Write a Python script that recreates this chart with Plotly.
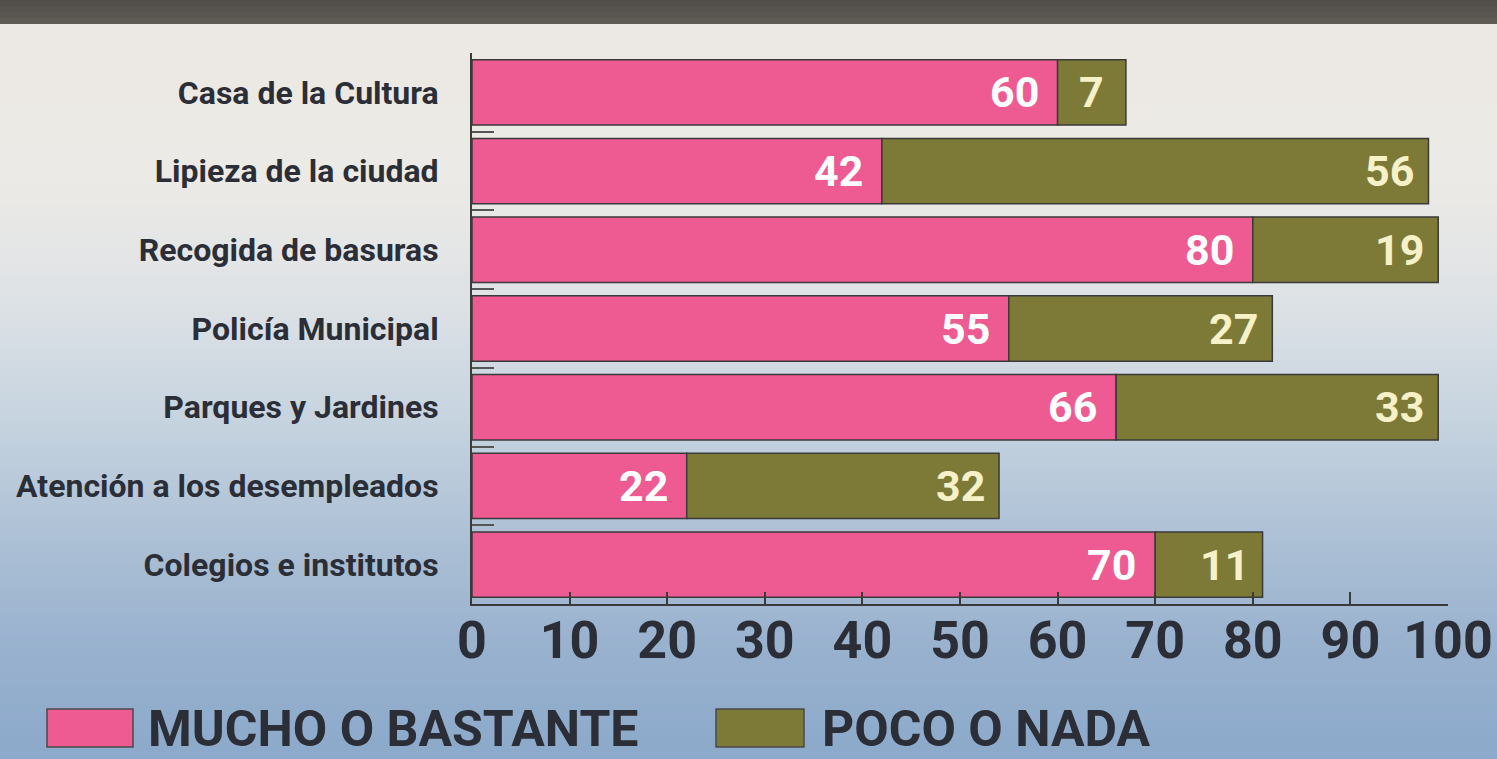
import plotly.graph_objects as go

categories = ["Casa de la Cultura", "Lipieza de la ciudad", "Recogida de basuras",
              "Policía Municipal", "Parques y Jardines", "Atención a los desempleados",
              "Colegios e institutos"]
mucho = [60, 42, 80, 55, 66, 22, 70]
poco = [7, 56, 19, 27, 33, 32, 11]
x_ticks = [0, 10, 20, 30, 40, 50, 60, 70, 80, 90, 100]
series_names = ["MUCHO O BASTANTE", "POCO O NADA"]

PINK = "#ee5a92"
OLIVE = "#7d7a38"
DARK = "#2b2e36"
FONT = "Roboto, Liberation Sans, Arial, sans-serif"

W, H = 1497, 759
L, R, T, B = 472, 49, 53, 155
PH = H - T - B


def py2paper(py):
    return (H - B - py) / PH


def px2paper(px):
    return (px - L) / (W - L - R)


fig = go.Figure()
fig.add_trace(go.Bar(y=categories, x=mucho, orientation="h", name=series_names[0],
                     marker=dict(color=PINK, line=dict(color="#3a3a3a", width=1.5)),
                     showlegend=False, hoverinfo="x+y"))
fig.add_trace(go.Bar(y=categories, x=poco, base=mucho, orientation="h", name=series_names[1],
                     marker=dict(color=OLIVE, line=dict(color="#3a3a3a", width=1.5)),
                     showlegend=False, hoverinfo="x+y"))

# value labels
for c, m, p in zip(categories, mucho, poco):
    fig.add_annotation(x=m, y=c, xref="x", yref="y", text=str(m), showarrow=False,
                       xanchor="right", xshift=-17,
                       font=dict(family=FONT, size=43, color="#ffffff", weight="bold"))
    if p < 10:
        fig.add_annotation(x=m + p / 2, y=c, xref="x", yref="y", text=str(p), showarrow=False,
                           xanchor="center",
                           font=dict(family=FONT, size=43, color="#f6f1c8", weight="bold"))
    else:
        fig.add_annotation(x=m + p, y=c, xref="x", yref="y", text=str(p), showarrow=False,
                           xanchor="right", xshift=-12,
                           font=dict(family=FONT, size=43, color="#f6f1c8", weight="bold"))

# background gradient (decorative)
stops = [(0, (80, 77, 72)), (22, (95, 92, 86)), (26, (236, 233, 228)), (180, (236, 234, 230)),
         (300, (222, 226, 230)), (420, (198, 211, 223)), (540, (172, 192, 213)),
         (650, (152, 177, 206)), (759, (140, 169, 203))]


def col_at(py):
    for (y0, c0), (y1, c1) in zip(stops[:-1], stops[1:]):
        if y0 <= py <= y1:
            t = (py - y0) / (y1 - y0) if y1 > y0 else 0
            return "rgb(%d,%d,%d)" % tuple(round(a + (b - a) * t) for a, b in zip(c0, c1))
    return "rgb(%d,%d,%d)" % stops[-1][1]


shapes = []
step = 6
py = 0
while py < H:
    shapes.append(dict(type="rect", xref="paper", yref="paper", layer="below",
                       x0=px2paper(-20), x1=px2paper(W + 20), y0=py2paper(py + step + 0.5), y1=py2paper(py),
                       fillcolor=col_at(py + step / 2), line=dict(width=0)))
    py += step

# custom legend
legend_items = [(47, 133, 146, PINK, series_names[0]), (716, 804, 820, OLIVE, series_names[1])]
for x0, x1, tx, col, name in legend_items:
    shapes.append(dict(type="rect", xref="paper", yref="paper",
                       x0=px2paper(x0), x1=px2paper(x1), y0=py2paper(747), y1=py2paper(709),
                       fillcolor=col, line=dict(color="#4a4a4a", width=1.5)))
    fig.add_annotation(x=px2paper(tx), y=py2paper(729), xref="paper", yref="paper",
                       text=name, showarrow=False, xanchor="left", yanchor="middle",
                       font=dict(family=FONT, size=50, color=DARK, weight="bold"))

fig.update_layout(
    width=W, height=H,
    margin=dict(l=L, r=R, t=T, b=B, autoexpand=False),
    barmode="overlay",
    bargap=0.17,
    paper_bgcolor="#c8d2dc",
    plot_bgcolor="rgba(0,0,0,0)",
    shapes=shapes,
    xaxis=dict(range=[0, 100], tickvals=x_ticks, showgrid=False, zeroline=False,
               showline=True, linecolor="#3a3a3a", linewidth=2, automargin=False,
               ticks="inside", ticklen=12, tickwidth=2, tickcolor="#3a3a3a",
               tickfont=dict(family=FONT, size=52, color=DARK, weight="bold"),
               ticklabelstandoff=-10, fixedrange=True),
    yaxis=dict(categoryorder="array", categoryarray=categories, autorange="reversed",
               showgrid=False, zeroline=False, showline=True, linecolor="#3a3a3a", linewidth=2,
               automargin=False,
               ticks="inside", tickson="boundaries", ticklen=22, tickwidth=2, tickcolor="#555",
               tickfont=dict(family=FONT, size=32, color=DARK, weight="bold"),
               ticklabelstandoff=25, fixedrange=True),
)

fig.write_html(
    "out.html",
    config={"displayModeBar": False},
    post_script="document.body.style.margin='0';document.body.style.overflow='hidden';"
                "document.documentElement.style.overflow='hidden';",
)
